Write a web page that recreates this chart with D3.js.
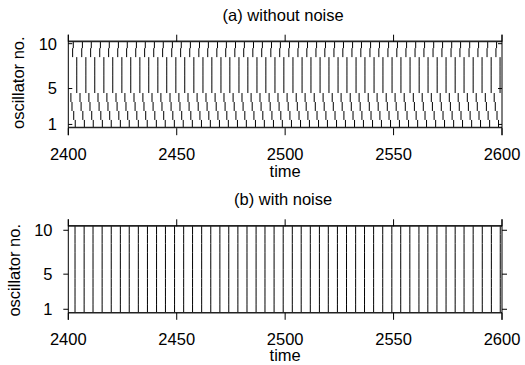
<!DOCTYPE html>
<html>
<head>
<meta charset="utf-8">
<script src="https://cdn.jsdelivr.net/npm/d3@7"></script>
<style>
body { margin: 0; background: #fff; }
text { font-family: "Liberation Sans", Arial, sans-serif; fill: #000; }
</style>
</head>
<body>
<div id="chart-area"></div>
<script>
var timeTicks = [2400, 2450, 2500, 2550, 2600];
var oscTicks = [1, 5, 10];
var oscillators = [1, 2, 3, 4, 5, 6, 7, 8, 9, 10];

// (a) firing times of oscillator 10, and how far each oscillator lags it
var spikesA = [2402.3, 2406.5, 2410.6, 2414.8, 2418.9, 2423.1, 2427.2, 2431.4, 2435.5, 2439.7,
  2443.8, 2448.0, 2452.1, 2456.3, 2460.5, 2464.6, 2468.8, 2472.9, 2477.1, 2481.2,
  2485.4, 2489.5, 2493.7, 2497.8, 2502.0, 2506.2, 2510.3, 2514.5, 2518.6, 2522.8,
  2526.9, 2531.1, 2535.2, 2539.4, 2543.5, 2547.7, 2551.8, 2556.0, 2560.2, 2564.3,
  2568.5, 2572.6, 2576.8, 2580.9, 2585.1, 2589.2, 2593.4, 2597.5];
var lagA = [0.9, 0.2, -0.6, -1.1, 1.6, 1.6, 1.6, 1.6, -0.3, 0];

// (b) all oscillators fire together
var spikesB = [2403.1, 2407.3, 2411.4, 2415.6, 2419.8, 2424.0, 2428.1, 2432.3, 2436.5, 2440.7,
  2444.8, 2449.0, 2453.2, 2457.3, 2461.5, 2465.7, 2469.9, 2474.0, 2478.2, 2482.4,
  2486.6, 2490.7, 2494.9, 2499.1, 2503.3, 2507.4, 2511.6, 2515.8, 2519.9, 2524.1,
  2528.3, 2532.5, 2536.6, 2540.8, 2545.0, 2549.2, 2553.3, 2557.5, 2561.7, 2565.8,
  2570.0, 2574.2, 2578.4, 2582.5, 2586.7, 2590.9, 2595.1, 2599.2];

var svg = d3.select("#chart-area").append("svg")
    .attr("width", 525)
    .attr("height", 365);

var x = d3.scaleLinear().domain([2400, 2600]).range([68.3, 502]);

// o: panel options (frame top, y domain, raster band, y tick direction, label spots)
function panel(o, marks) {
    var top = o.top, yDomain = o.yDomain, band = o.band;
    var y = d3.scaleLinear().domain(yDomain).range([top + 100.5, top]);
    var g = svg.append("g");
    var clip = "clip" + Math.round(top);
    g.append("clipPath").attr("id", clip)
      .append("rect")
        .attr("x", x(2400)).attr("y", y(band[1]))
        .attr("width", x(2600) - x(2400))
        .attr("height", y(band[0]) - y(band[1]));

    g.append("g").attr("clip-path", "url(#" + clip + ")")
      .selectAll("line")
      .data(marks)
      .enter()
      .append("line")
        .attr("x1", (d) => x(d.t)).attr("x2", (d) => x(d.t))
        .attr("y1", (d) => y(d.i - 0.5)).attr("y2", (d) => y(d.i + 0.5))
        .attr("stroke", "#000")
        .attr("stroke-width", 1);

    // bounding lines of the raster
    g.selectAll(".band")
      .data(band)
      .enter()
      .append("line")
        .attr("x1", x(2400)).attr("x2", x(2600))
        .attr("y1", (d) => y(d)).attr("y2", (d) => y(d))
        .attr("stroke", "#222")
        .attr("stroke-width", 1.6);

    // frame spines left and right
    [2400, 2600].forEach((v) => {
        g.append("line")
          .attr("x1", x(v)).attr("x2", x(v))
          .attr("y1", y(yDomain[0])).attr("y2", y(yDomain[1]))
          .attr("stroke", "#000").attr("stroke-width", 1);
    });

    g.selectAll(".xt")
      .data(timeTicks)
      .enter()
      .append("path")
        .attr("d", (d) => "M" + x(d) + "," + y(yDomain[0]) + "v-7M" + x(d) + "," + y(yDomain[1]) + "v7")
        .attr("stroke", "#000").attr("stroke-width", 1);
    g.selectAll(".yt")
      .data(oscTicks)
      .enter()
      .append("path")
        .attr("d", (d) => "M" + x(2400) + "," + y(d) + "h" + o.yTick + "M" + x(2600) + "," + y(d) + "h" + (-o.yTick))
        .attr("stroke", "#000").attr("stroke-width", 1);

    g.selectAll(".xl")
      .data(timeTicks)
      .enter()
      .append("text")
        .attr("x", (d) => x(d))
        .attr("y", y(yDomain[0]) + 25)
        .attr("text-anchor", "middle")
        .style("font-size", "16.5px")
        .text((d) => d);
    g.selectAll(".yl")
      .data(oscTicks)
      .enter()
      .append("text")
        .attr("x", o.labelX)
        .attr("y", (d) => y(d))
        .attr("dy", "0.36em")
        .attr("text-anchor", "end")
        .style("font-size", "16.5px")
        .text((d) => d);

    g.append("text")
      .attr("x", (x(2400) + x(2600)) / 2)
      .attr("y", y(yDomain[0]) + 41.5)
      .attr("text-anchor", "middle")
      .style("font-size", "16.5px")
      .text("time");
    g.append("text")
      .attr("x", (x(2400) + x(2600)) / 2 - 2)
      .attr("y", top - 14)
      .attr("text-anchor", "middle")
      .style("font-size", "16.5px")
      .text(o.title);
    g.append("text")
      .attr("transform", "translate(" + o.nameX + "," + (top + o.nameDy) + ") rotate(-90)")
      .attr("text-anchor", "middle")
      .style("font-size", "16.5px")
      .text("oscillator no.");
}

var marksA = [];
oscillators.forEach((i, n) => {
    spikesA.forEach((t) => { marksA.push({t: t + lagA[n], i: i}); });
});
var marksB = [];
oscillators.forEach((i) => {
    spikesB.forEach((t) => { marksB.push({t: t, i: i}); });
});

panel({top: 34.7, yDomain: [-0.2, 11], band: [0.66, 10.26], yTick: 4,
       labelX: 57, nameX: 24, nameDy: 48, title: "(a) without noise"}, marksA);
panel({top: 219.3, yDomain: [-0.2, 11.25], band: [0.6, 10.5], yTick: -5,
       labelX: 52.5, nameX: 20, nameDy: 51, title: "(b) with noise"}, marksB);
</script>
</body>
</html>
